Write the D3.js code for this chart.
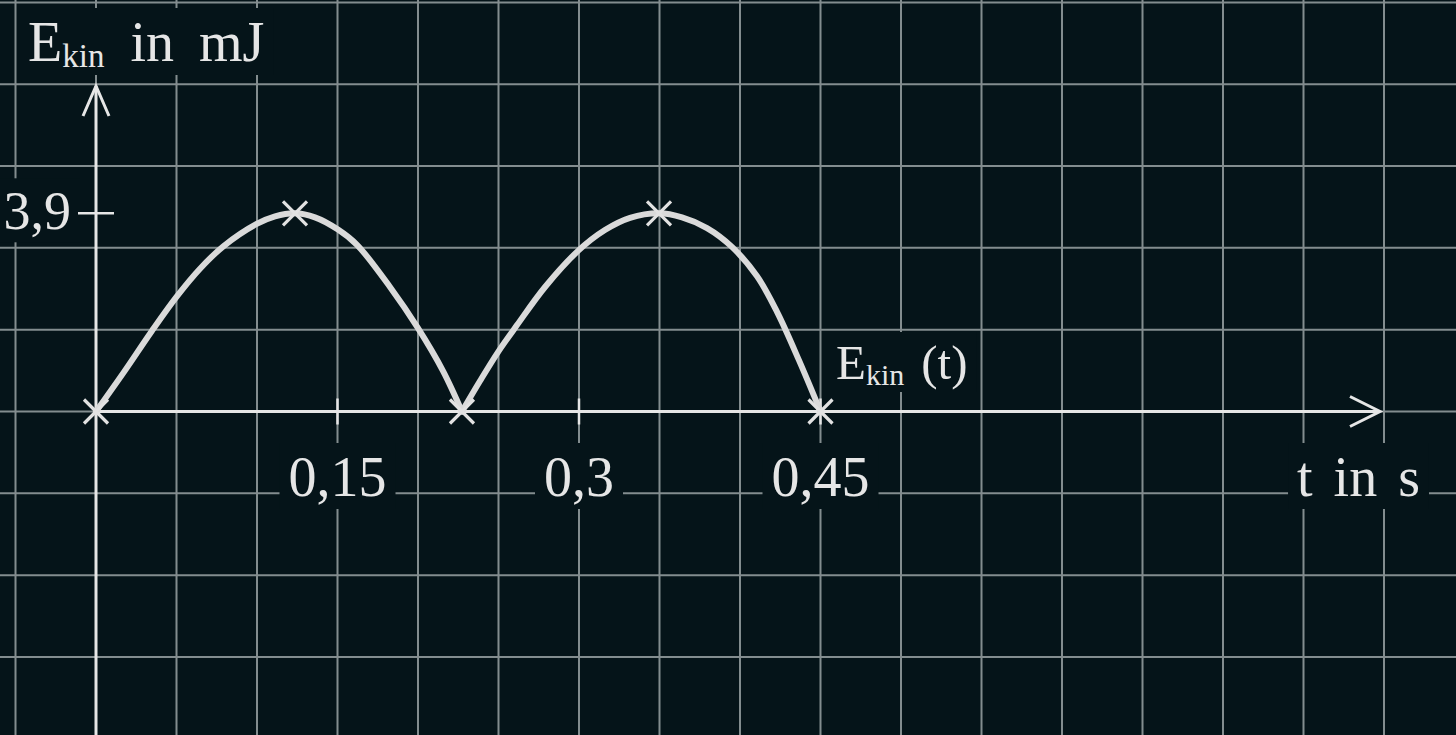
<!DOCTYPE html>
<html>
<head>
<meta charset="utf-8">
<script src="https://cdn.jsdelivr.net/npm/d3@7"></script>
<style>
  html, body { margin: 0; padding: 0; background: #051419; }
  svg { display: block; }
  text { font-family: "Liberation Serif", "DejaVu Serif", serif; fill: #e6e6e6; }
</style>
</head>
<body>
<svg></svg>
<script>
// values
const hump1T = [0, 0.017, 0.0346, 0.0501, 0.0646, 0.0791, 0.0998, 0.1112, 0.1236, 0.1360, 0.1503, 0.1621, 0.1826, 0.2000, 0.2155, 0.2273];
const hump1E = [0, 0.76, 1.58, 2.26, 2.81, 3.25, 3.69, 3.84, 3.90, 3.82, 3.58, 3.28, 2.45, 1.64, 0.80, 0];
const hump2T = [0.2273, 0.2385, 0.2497, 0.2615, 0.2789, 0.2994, 0.3161, 0.3317, 0.3497, 0.3640, 0.3795, 0.3950, 0.4106, 0.4230, 0.4366, 0.45];
const hump2E = [0, 0.60, 1.17, 1.70, 2.45, 3.16, 3.57, 3.81, 3.90, 3.82, 3.61, 3.24, 2.66, 1.96, 1.01, 0];
const markerT = [0, 0.1236, 0.2273, 0.3497, 0.45];
const markerE = [0, 3.9, 0, 3.9, 0];
const xTicks = [0.15, 0.3, 0.45];
const xTickLabels = ["0,15", "0,3", "0,45"];
const yTicks = [3.9];
const yTickLabels = ["3,9"];

const width = 1456;
const height = 735;

const xScale = d3.scaleLinear()
                  .domain([0, 0.45])
                  .range([96, 820.5]);

const yScale = d3.scaleLinear()
                  .domain([0, 3.9])
                  .range([411.5, 213.3]);

const gridX = d3.range(-1, 18).map(k => k * 0.05);
const gridY = d3.range(-4, 6).map(k => k * 1.61);

const fg = "#e6e6e6";
const bg = "#051419";

const svg = d3.select("svg")
              .attr("width", width)
              .attr("height", height);

svg.append("rect")
   .attr("width", width)
   .attr("height", height)
   .attr("fill", bg);

// grid
const grid = svg.append("g")
                .attr("stroke", "#838d8f")
                .attr("stroke-width", 2);
grid.selectAll("line.v")
    .data(gridX)
    .enter()
    .append("line")
      .attr("class", "v")
      .attr("x1", d => xScale(d))
      .attr("x2", d => xScale(d))
      .attr("y1", 0)
      .attr("y2", height);
grid.selectAll("line.h")
    .data(gridY)
    .enter()
    .append("line")
      .attr("class", "h")
      .attr("y1", d => yScale(d))
      .attr("y2", d => yScale(d))
      .attr("x1", 0)
      .attr("x2", width);

const boxLayer = svg.append("g");
const axisLayer = svg.append("g");
const textLayer = svg.append("g");

// axes
axisLayer.append("line")
  .attr("x1", xScale(0)).attr("x2", 1380)
  .attr("y1", yScale(0)).attr("y2", yScale(0))
  .attr("stroke", fg).attr("stroke-width", 3);
axisLayer.append("line")
  .attr("x1", xScale(0)).attr("x2", xScale(0))
  .attr("y1", height).attr("y2", 86)
  .attr("stroke", fg).attr("stroke-width", 3);
axisLayer.append("polyline")
  .attr("points", `1350,${yScale(0) - 15} 1380,${yScale(0)} 1350,${yScale(0) + 15}`)
  .attr("fill", "none").attr("stroke", fg).attr("stroke-width", 3);
axisLayer.append("polyline")
  .attr("points", `${xScale(0) - 13},116 ${xScale(0)},86 ${xScale(0) + 13},116`)
  .attr("fill", "none").attr("stroke", fg).attr("stroke-width", 3);

// ticks
axisLayer.selectAll("line.xt")
  .data(xTicks)
  .enter()
  .append("line")
    .attr("class", "xt")
    .attr("x1", d => xScale(d)).attr("x2", d => xScale(d))
    .attr("y1", yScale(0) - 13).attr("y2", yScale(0) + 13)
    .attr("stroke", fg).attr("stroke-width", 2.5);
axisLayer.selectAll("line.yt")
  .data(yTicks)
  .enter()
  .append("line")
    .attr("class", "yt")
    .attr("y1", d => yScale(d)).attr("y2", d => yScale(d))
    .attr("x1", xScale(0) - 18).attr("x2", xScale(0) + 18)
    .attr("stroke", fg).attr("stroke-width", 2.5);

// curve
const line = d3.line()
               .x(d => xScale(d[0]))
               .y(d => yScale(d[1]))
               .curve(d3.curveCatmullRom.alpha(0.5));

[[hump1T, hump1E], [hump2T, hump2E]].forEach(([ts, es]) => {
  svg.append("path")
     .datum(ts.map((t, i) => [t, es[i]]))
     .attr("d", line)
     .attr("fill", "none")
     .attr("stroke", "#dadada")
     .attr("stroke-width", 6)
     .attr("stroke-linecap", "round");
});

// cross markers
const marks = svg.append("g")
                 .attr("stroke", "#e2e2e2")
                 .attr("stroke-width", 3.2);
markerT.forEach((t, i) => {
  const cx = xScale(t), cy = yScale(markerE[i]), r = 12;
  marks.append("path")
       .attr("d", `M${cx - r},${cy - r}L${cx + r},${cy + r}M${cx - r},${cy + r}L${cx + r},${cy - r}`);
});

// labels (with dark box behind, cutting the grid)
function label(x, y, parts, size, anchor) {
  const t = textLayer.append("text")
                     .attr("x", x)
                     .attr("y", y)
                     .attr("text-anchor", anchor || "start")
                     .style("font-size", size + "px");
  parts.forEach(p => {
    const s = t.append("tspan").text(p.text);
    if (p.size) s.style("font-size", p.size + "px");
    if (p.dy) s.attr("dy", p.dy);
    if (p.dx) s.attr("dx", p.dx);
    if (p.ws) s.style("word-spacing", p.ws + "px");
  });
  const b = t.node().getBBox();
  boxLayer.append("rect")
          .attr("x", b.x - 9)
          .attr("y", b.y - 3)
          .attr("width", b.width + 18)
          .attr("height", b.height + 4)
          .attr("fill", bg);
  return t;
}

label(28, 61, [
  {text: "E"},
  {text: "kin", size: 33, dy: 6},
  {text: "in mJ", dy: -6, dx: 26, ws: 11}
], 56);

yTicks.forEach((d, i) => label(71, yScale(d) + 16, [{text: yTickLabels[i]}], 54, "end"));

xTicks.forEach((d, i) => label(xScale(d), 496, [{text: xTickLabels[i]}], 56, "middle"));

label(xScale(0.746), 496, [{text: "t in s", ws: 7}], 56);

label(836, 379, [
  {text: "E"},
  {text: "kin", size: 30, dy: 6},
  {text: "(t)", dy: -6, dx: 17}
], 49);
</script>
</body>
</html>
